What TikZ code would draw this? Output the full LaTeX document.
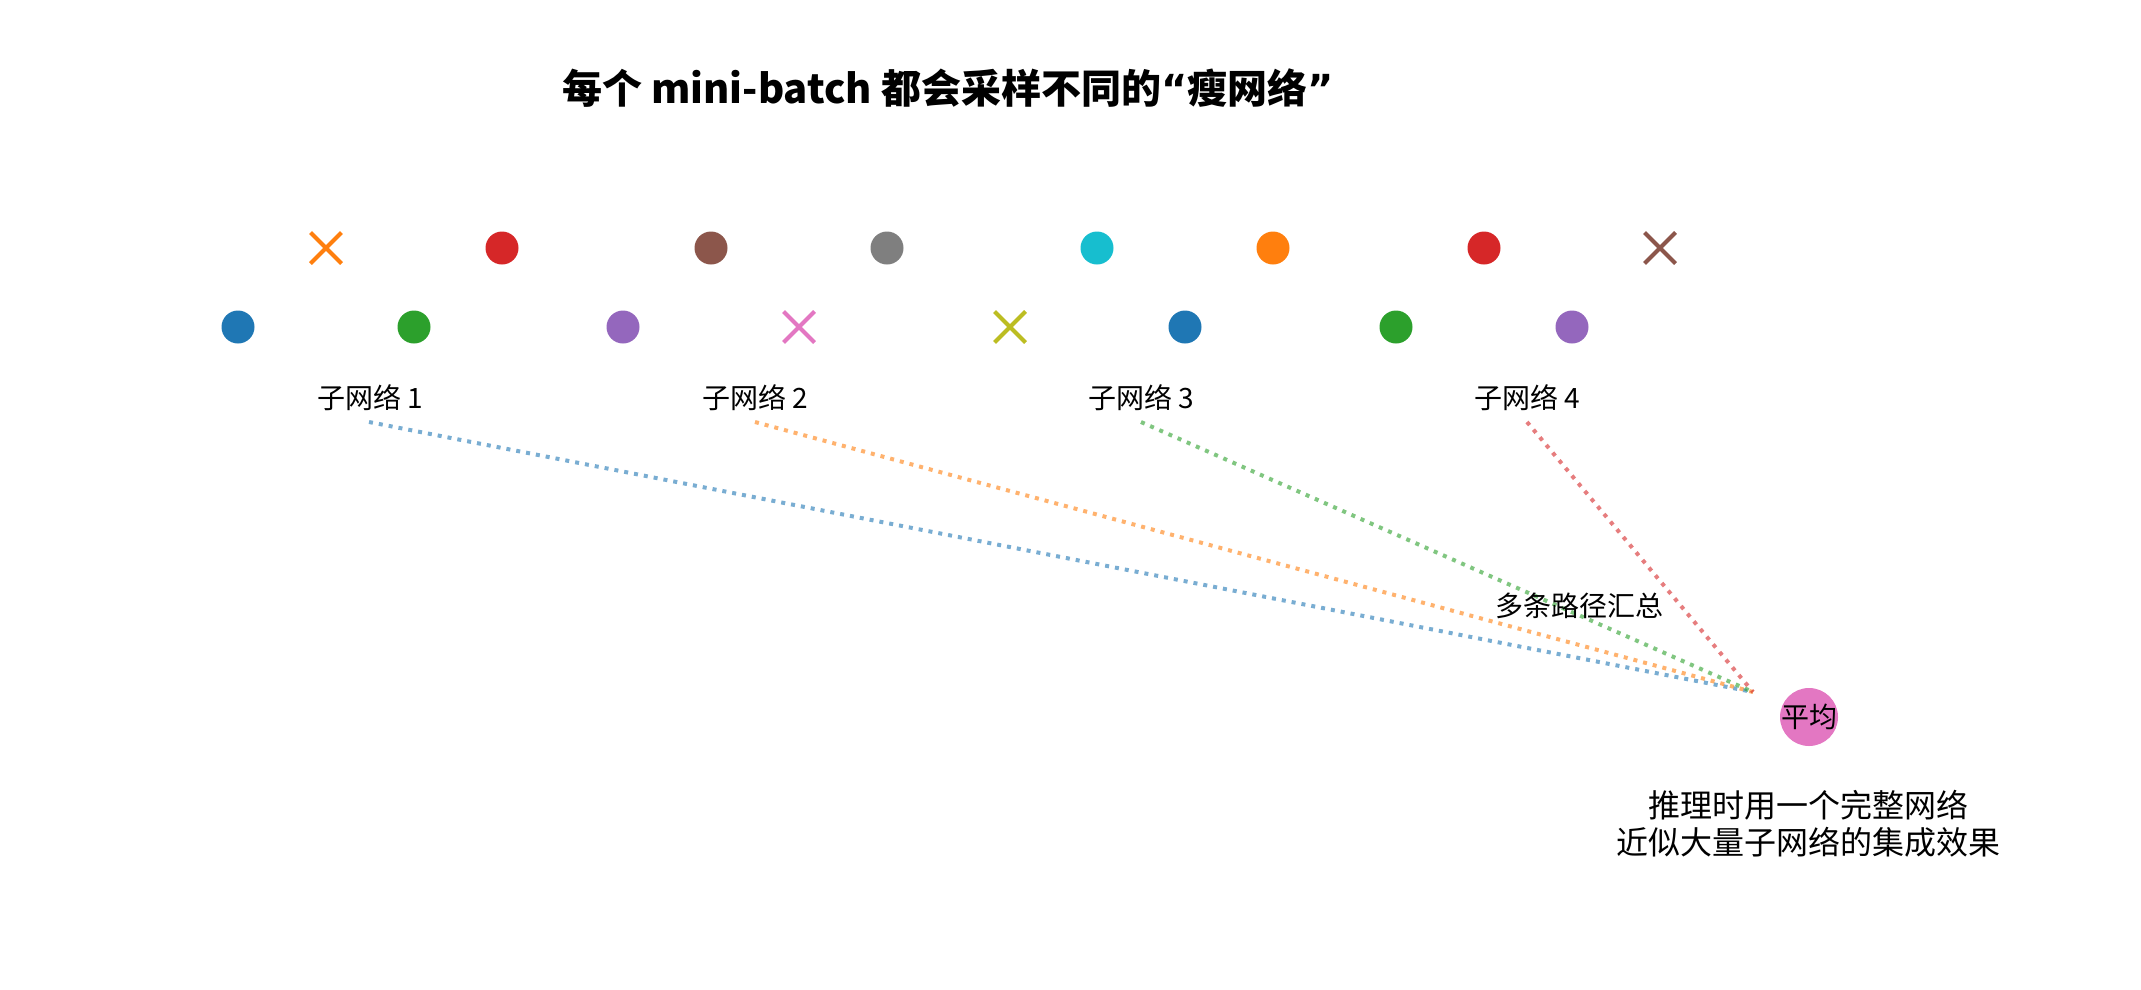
\documentclass[tikz,border=0pt]{standalone}
\usepackage{fontspec}
\setmainfont{Noto Sans CJK SC}
\newfontfamily\qfont{DejaVu Sans}
\usetikzlibrary{shapes.misc}
\definecolor{tblue}{HTML}{1F77B4}
\definecolor{torange}{HTML}{FF7F0E}
\definecolor{tgreen}{HTML}{2CA02C}
\definecolor{tred}{HTML}{D62728}
\definecolor{tpurple}{HTML}{9467BD}
\definecolor{tbrown}{HTML}{8C564B}
\definecolor{tpink}{HTML}{E377C2}
\definecolor{tgray}{HTML}{7F7F7F}
\definecolor{tolive}{HTML}{BCBD22}
\definecolor{tcyan}{HTML}{17BECF}
\tikzset{
  neuron/.style={circle, fill=#1, draw=none, minimum size=33pt, inner sep=0pt},
  dropped/.style={cross out, draw=#1, line width=4pt, minimum size=27pt, inner sep=0pt},
  lbl/.style={font=\fontsize{28}{32}\selectfont, anchor=base, inner sep=0pt},
  path/.style={draw=#1, draw opacity=0.6, line width=4pt, dash pattern=on 4pt off 6pt},
}
\begin{document}
\begin{tikzpicture}[x=1pt, y=-1pt]
\useasboundingbox (0,0) rectangle (2141,989);
% title
\node[anchor=base, inner sep=0pt, font=\fontsize{40}{48}\selectfont\bfseries] (title) at (948,103) {每个 mini-batch 都会采样不同的{\qfont\bfseries “}瘦网络{\qfont\bfseries ”}};
% subnet 1
\node[neuron=tblue] (n11) at (238,327) {};
\node[dropped=torange] (n12) at (326,248) {};
\node[neuron=tgreen] (n13) at (414,327) {};
\node[neuron=tred] (n14) at (502,248) {};
% subnet 2
\node[neuron=tpurple] (n21) at (623,327) {};
\node[neuron=tbrown] (n22) at (711,248) {};
\node[dropped=tpink] (n23) at (799,327) {};
\node[neuron=tgray] (n24) at (887,248) {};
% subnet 3
\node[dropped=tolive] (n31) at (1010,327) {};
\node[neuron=tcyan] (n32) at (1097,248) {};
\node[neuron=tblue] (n33) at (1185,327) {};
\node[neuron=torange] (n34) at (1273,248) {};
% subnet 4
\node[neuron=tgreen] (n41) at (1396,327) {};
\node[neuron=tred] (n42) at (1484,248) {};
\node[neuron=tpurple] (n43) at (1572,327) {};
\node[dropped=tbrown] (n44) at (1660,248) {};
% labels
\node[lbl] (s1) at (370,408) {子网络 1};
\node[lbl] (s2) at (755,408) {子网络 2};
\node[lbl] (s3) at (1141,408) {子网络 3};
\node[lbl] (s4) at (1527,408) {子网络 4};
% connectors
\coordinate (p1) at (369,422);
\coordinate (p2) at (755,422);
\coordinate (p3) at (1141,422);
\coordinate (p4) at (1527,422);
\coordinate (m) at (1753,692);
\draw[path=tblue] (p1) -- (m);
\draw[path=torange] (p2) -- (m);
\draw[path=tgreen] (p3) -- (m);
\draw[path=tred] (p4) -- (m);
\node[lbl] (merge) at (1579,616) {多条路径汇总};
% average
\node[circle, fill=tpink, minimum size=58pt, inner sep=0pt] (avg) at (1809,717) {};
\node[lbl] (avgt) at (1809,727) {平均};
\node[anchor=base, inner sep=0pt, align=center, font=\fontsize{32}{37}\selectfont] (note) at (1808,854) {推理时用一个完整网络\\近似大量子网络的集成效果};
\end{tikzpicture}
\end{document}
